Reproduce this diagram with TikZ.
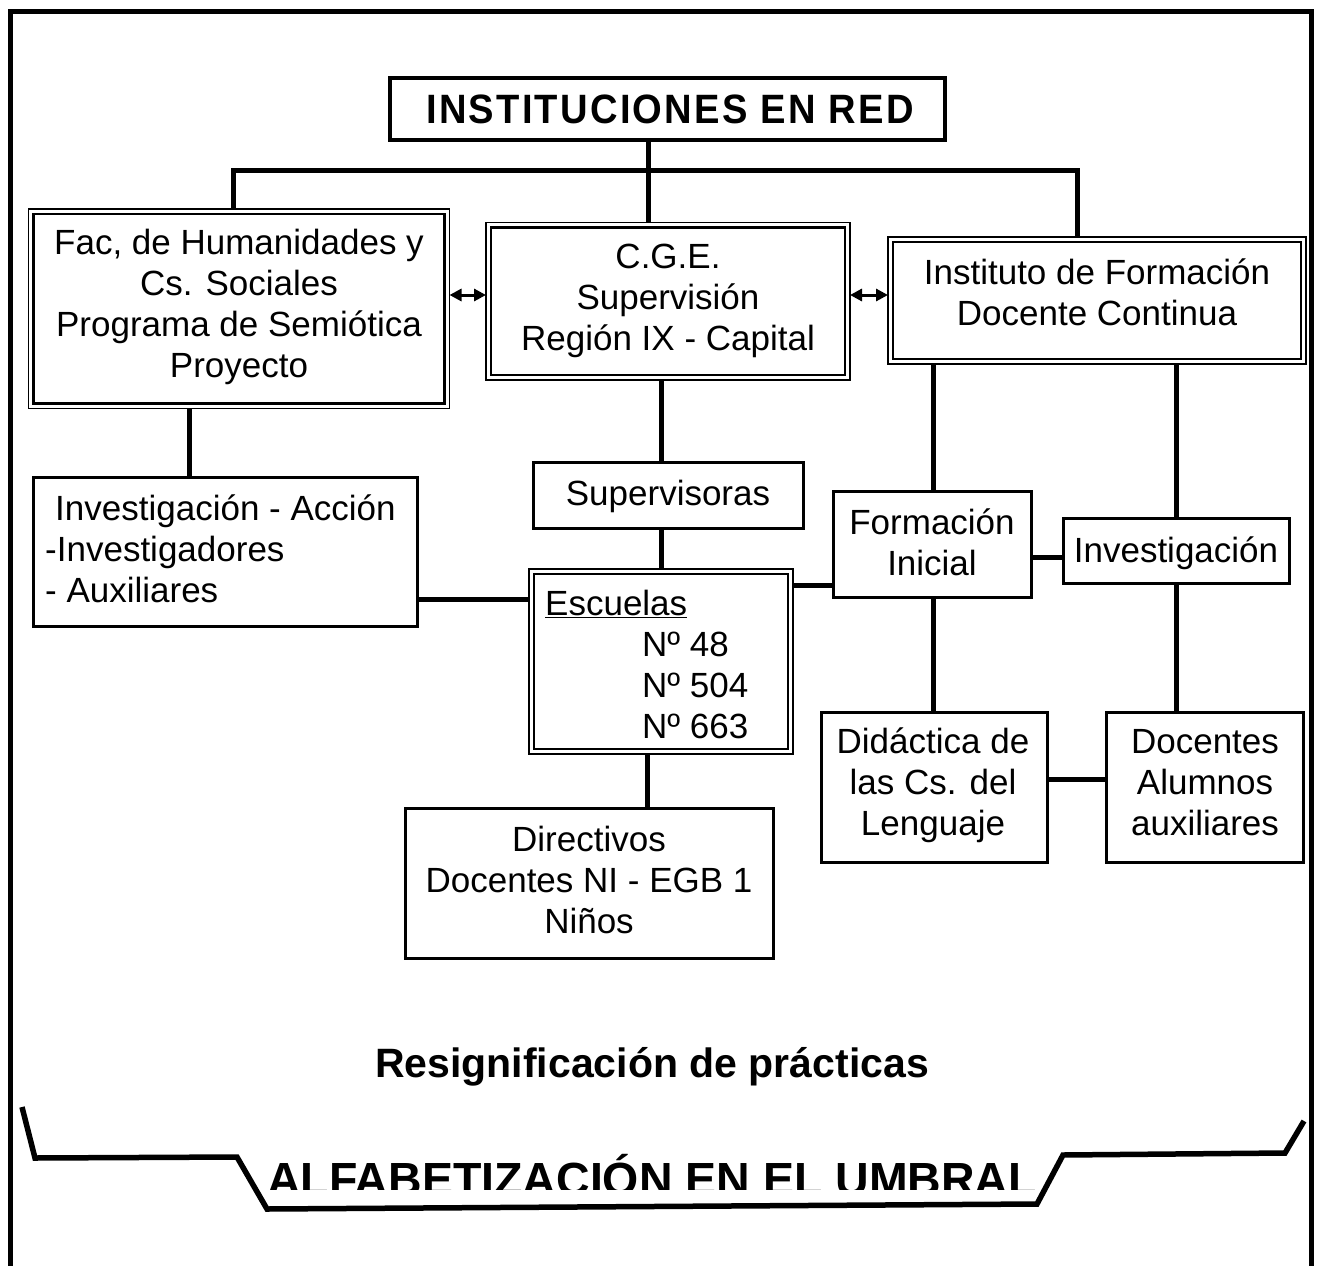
\documentclass[tikz,border=0pt]{standalone}
\usepackage{fontspec}
\setmainfont{Liberation Sans}
\newfontfamily\titlefont[FakeStretch=0.93,LetterSpace=5.5]{Liberation Sans}
\usetikzlibrary{arrows.meta,calc}
\begin{document}
\begin{tikzpicture}[x=1pt,y=-1pt,
  boxs/.style={draw, line width=3pt, inner sep=0pt, outer sep=0pt},
  boxd/.style={draw, line width=1.7pt, inner sep=0pt, outer sep=0pt},
  lbl/.style={inner sep=0pt, align=center, font=\fontsize{35}{41}\selectfont},
  conn/.style={line width=5pt, line join=miter},
  biarrow/.style={line width=3pt, {Triangle[length=12pt,width=12pt]}-{Triangle[length=12pt,width=12pt]}},
  innerline/.style={line width=2.7pt}]
\useasboundingbox (0,0) rectangle (1317,1266);

% outer frame
\draw[line width=5pt, line join=miter] (10.5,1270) -- (10.5,11.5) -- (1311.5,11.5) -- (1311.5,1270);

% boxes
\node[boxs, line width=3.5pt, minimum width=555, minimum height=62] (title) at (667.5,109) {};
\node[boxd, minimum width=421, minimum height=199.5] (fac) at (239,308.75) {};
\node[boxd, minimum width=364, minimum height=157.5] (cge) at (668,301.25) {};
\node[boxd, minimum width=418, minimum height=127] (ifd) at (1097,300.5) {};
\node[boxs, minimum width=384, minimum height=149] (inv) at (225,551.5) {};
\node[boxs, minimum width=270, minimum height=66] (sup) at (668,495) {};
\node[boxd, minimum width=264, minimum height=185] (esc) at (661,661.5) {};
\node[boxs, minimum width=368, minimum height=150] (dir) at (589,883) {};
\node[boxs, minimum width=198, minimum height=106] (form) at (932,544) {};
\node[boxs, minimum width=226, minimum height=65] (invr) at (1176,550.5) {};
\node[boxs, minimum width=226, minimum height=150] (did) at (934,787) {};
\node[boxs, minimum width=197, minimum height=150] (doc) at (1204.5,787) {};

\foreach \n in {fac,cge,ifd,esc}
  \draw[innerline] ($(\n.north west)+(5,5)$) rectangle ($(\n.south east)+(-5,-5)$);

% texts
\node[inner sep=0pt, anchor=base, font=\titlefont\fontsize{41}{46}\selectfont\bfseries] (title-t) at (670,123) {INSTITUCIONES EN RED};
\node[lbl] (fac-t) at (239,307) {Fac, de Humanidades y\\Cs. Sociales\\Programa de Semiótica\\Proyecto};
\node[lbl] (cge-t) at (668,301) {C.G.E.\\Supervisión\\Región IX - Capital};
\node[lbl] (ifd-t) at (1097,292) {Instituto de Formación\\Docente Continua};
\node[lbl, align=left, anchor=west] (inv-t) at (45,548.5) {\hspace*{10pt}Investigación - Acción\\-Investigadores\\- Auxiliares};
\node[lbl] (sup-t) at (668,496) {Supervisoras};
\node[lbl, align=left, anchor=west] (esc-t) at (545,664) {\underline{Escuelas}\\\hspace*{97pt}Nº 48\\\hspace*{97pt}Nº 504\\\hspace*{97pt}Nº 663};
\node[lbl] (dir-t) at (589,880) {Directivos\\Docentes NI - EGB 1\\Niños};
\node[lbl] (form-t) at (932,542) {Formación\\Inicial};
\node[lbl] (invr-t) at (1176,553) {Investigación};
\node[lbl] (did-t) at (933,785) {Didáctica de\\las Cs. del\\Lenguaje};
\node[lbl] (doc-t) at (1205,783) {Docentes\\Alumnos\\auxiliares};

\node[inner sep=0pt, anchor=base, font=\fontsize{41}{48}\selectfont\bfseries] (resig) at (652,1077) {Resignificación de prácticas};

\begin{scope}
  \clip (0,0) rectangle (1317,1189.5);
  \node[inner sep=0pt, anchor=base, font=\fontsize{46.5}{52}\selectfont\bfseries] (alfa) at (652,1195) {ALFABETIZACIÓN EN EL UMBRAL};
\end{scope}

% brace-like line
\draw[line width=5.5pt, line join=miter] (22,1107) -- (35,1158) -- (237,1157) -- (267,1209) -- (1037,1204) -- (1063,1155) -- (1285,1153) -- (1304,1121);

% coordinates for connector positions
\coordinate (jl) at (233,170);
\coordinate (jc) at (648,170);
\coordinate (jr) at (1077,170);
\coordinate (xfac) at (189,0);
\coordinate (xcge) at (661,0);
\coordinate (xesc) at (647,0);
\coordinate (xform) at (933,0);
\coordinate (xinvr) at (1176,0);
\coordinate (yarrow) at (0,295);
\coordinate (yinv) at (0,599);
\coordinate (yesc) at (0,585);
\coordinate (yform) at (0,557);
\coordinate (ydid) at (0,779);

% tree from title
\draw[conn] (jc |- title.south) -- (jc |- cge.north);
\draw[conn] (jl |- fac.north) -- (jl) -- (jr) -- (jr |- ifd.north);

% arrows
\draw[biarrow] (fac.east |- yarrow) -- (cge.west |- yarrow);
\draw[biarrow] (cge.east |- yarrow) -- (ifd.west |- yarrow);

% connectors
\draw[conn] (fac.south -| xfac) -- (inv.north -| xfac);
\draw[conn] (cge.south -| xcge) -- (sup.north -| xcge);
\draw[conn] (sup.south -| xcge) -- (esc.north -| xcge);
\draw[conn] (esc.south -| xesc) -- (dir.north -| xesc);
\draw[conn] (inv.east |- yinv) -- (esc.west |- yinv);
\draw[conn] (esc.east |- yesc) -- (form.west |- yesc);
\draw[conn] (ifd.south -| xform) -- (form.north -| xform);
\draw[conn] (ifd.south -| xinvr) -- (invr.north -| xinvr);
\draw[conn] (form.east |- yform) -- (invr.west |- yform);
\draw[conn] (form.south -| xform) -- (did.north -| xform);
\draw[conn] (invr.south -| xinvr) -- (doc.north -| xinvr);
\draw[conn] (did.east |- ydid) -- (doc.west |- ydid);
\end{tikzpicture}
\end{document}
